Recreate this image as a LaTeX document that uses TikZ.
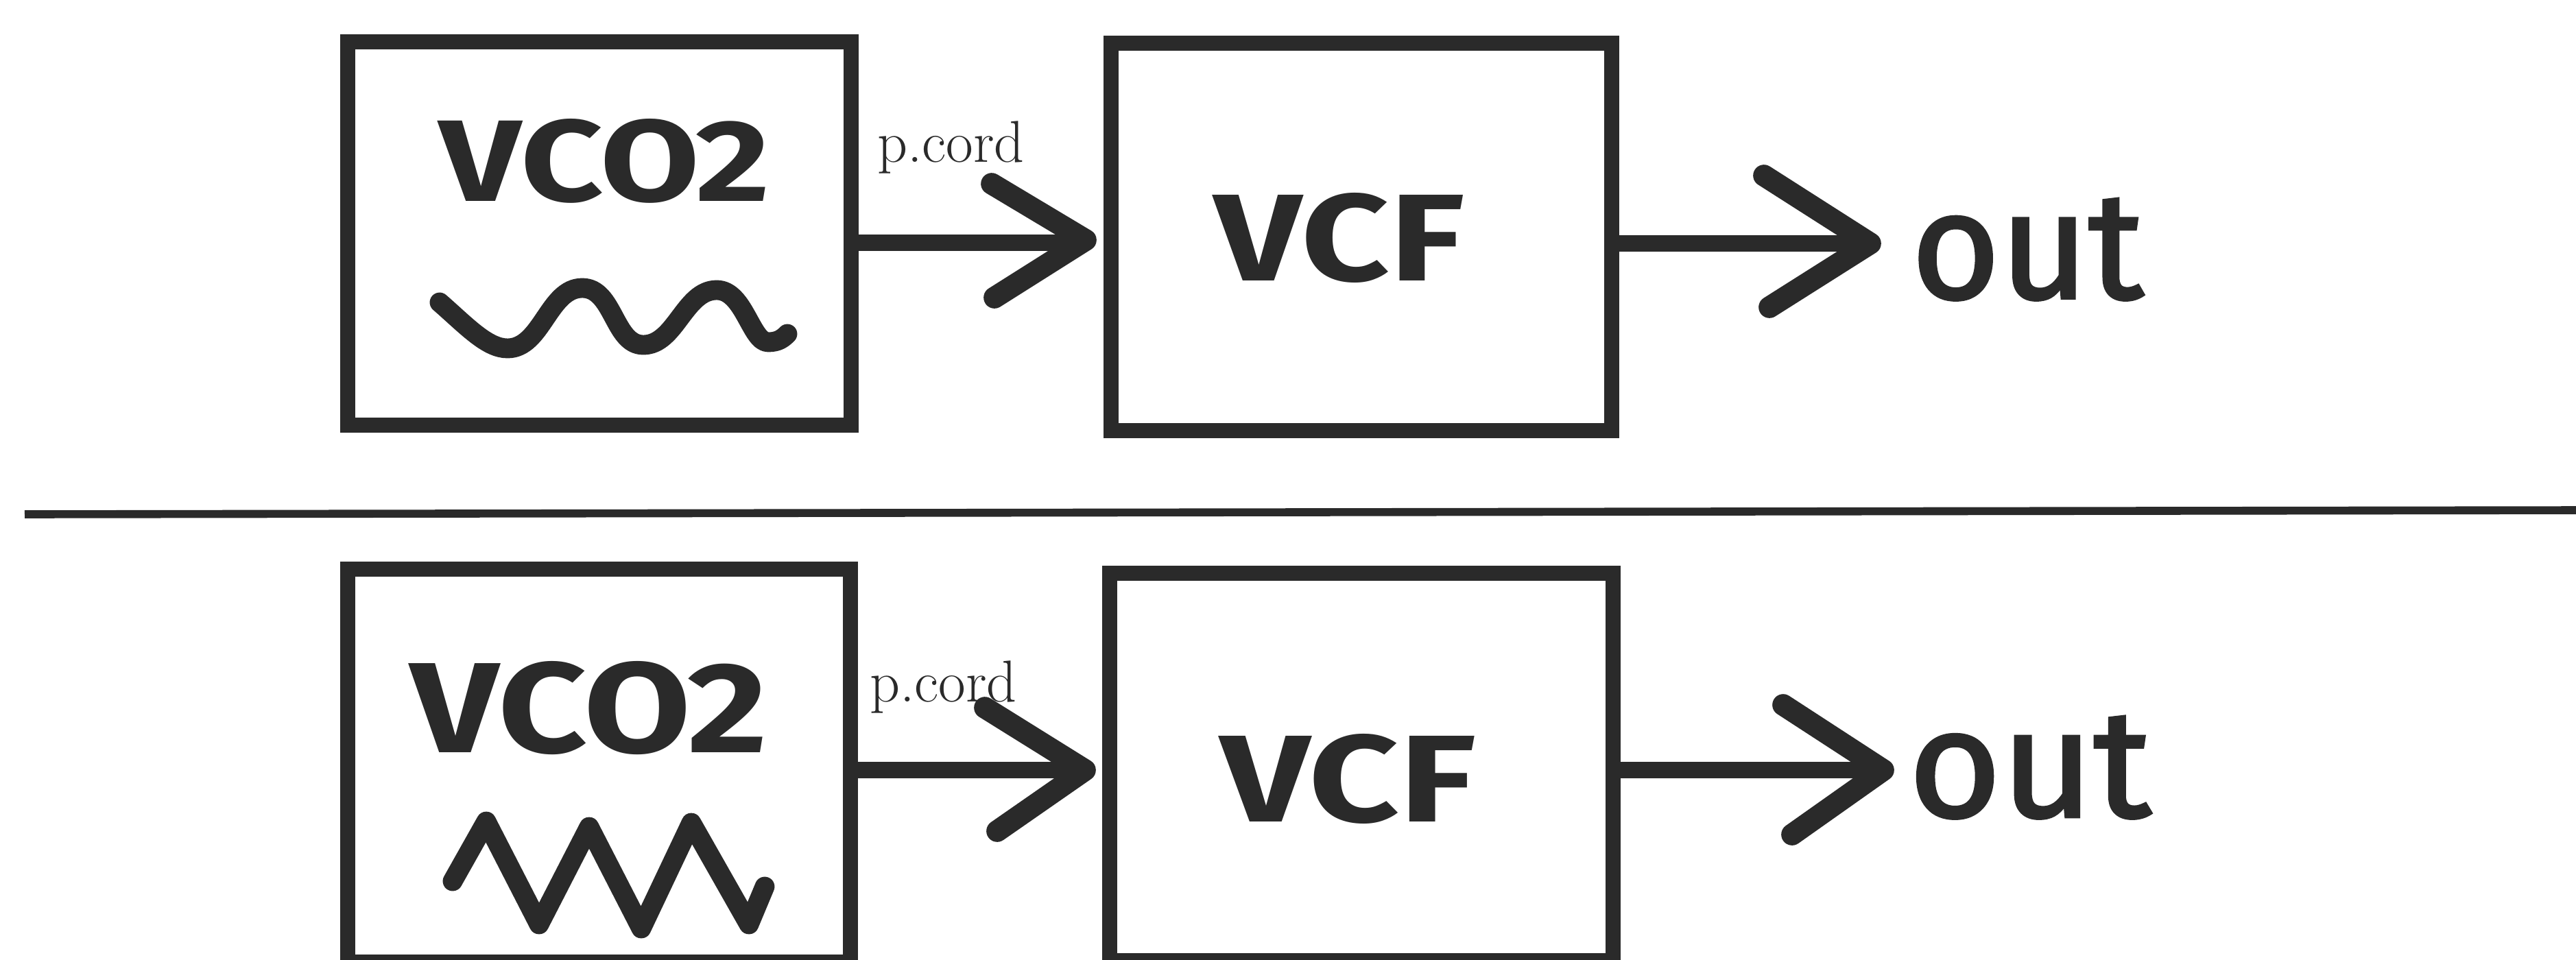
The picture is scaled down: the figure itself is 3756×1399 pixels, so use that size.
\documentclass[tikz,border=0pt]{standalone}
\usepackage{fontspec}
\setsansfont{Fira Sans}
\newfontfamily\outlettering{Fira Sans}[FakeBold=2]
\usepackage{graphicx}
\definecolor{ink}{RGB}{42,42,42}
\begin{document}
\begin{tikzpicture}[x=0.01cm,y=-0.01cm,
  blockbox/.style={draw=ink, line width=6.3pt, inner sep=0pt, outer sep=0pt},
  wire/.style={draw=ink, line width=7pt},
  chevron/.style={draw=ink, line width=9pt, line cap=round, line join=round},
  wavy/.style={draw=ink, line width=8.2pt, line cap=round, line join=round},
  rulel/.style={draw=ink, line width=3.3pt},
  lettering/.style={inner sep=0pt, outer sep=0pt, text=ink, font=\sffamily\bfseries},
  outtext/.style={inner sep=0pt, outer sep=0pt, text=ink, font=\outlettering, anchor=base west},
  cordlabel/.style={inner sep=0pt, outer sep=0pt, text=ink, font=\fontsize{24.5}{24.5}\selectfont, anchor=base west}]
\path[fill=white,use as bounding box] (0,0) rectangle (3756,1399);
\clip (0,0) rectangle (3756,1399);

% ---------- top row ----------
\node[blockbox, minimum width=7.34cm, minimum height=5.59cm] (vcoA) at (874,340.5) {};
\node[blockbox, minimum width=7.30cm, minimum height=5.65cm] (vcfA) at (1985,345.5) {};
\node[lettering] (vcoAtxt) at (882,235) {\resizebox{4.82cm}{1.2cm}{VCO2}};
\node[lettering] (vcfAtxt) at (1953,347) {\resizebox{3.64cm}{1.28cm}{VCF}};
\node[cordlabel] (cordA) at (1279,236) {p.cord};
\coordinate (tipA1) at (1583,350);
\coordinate (upA1) at (1446,268);
\coordinate (loA1) at (1450,434);
\coordinate (shaftA1) at (1583,354);
\draw[wire] (vcoA.east |- shaftA1) -- (shaftA1);
\draw[chevron] (upA1) -- (tipA1) -- (loA1);
\coordinate (tipA2) at (2727,355);
\coordinate (upA2) at (2572,256);
\coordinate (loA2) at (2580,448);
\draw[wire] (vcfA.east |- tipA2) -- (tipA2);
\draw[chevron] (upA2) -- (tipA2) -- (loA2);
\node[outtext] (outA) at (2787,435) {\resizebox{3.38cm}{1.45cm}{out}};
\draw[wavy] (641,441) .. controls (680,475) and (710,508) .. (740,508)
  .. controls (790,508) and (800,420) .. (849,420)
  .. controls (895,420) and (895,503) .. (938,503)
  .. controls (985,503) and (998,423) .. (1045,423)
  .. controls (1085,423) and (1095,499) .. (1120,499)
  .. controls (1135,499) and (1142,493) .. (1148,487);

% ---------- separator ----------
\coordinate (sepL) at (36,750);
\coordinate (sepR) at (3756,744);
\draw[rulel] (sepL) -- (sepR);

% ---------- bottom row ----------
\node[blockbox, minimum width=7.32cm, minimum height=5.73cm] (vcoB) at (873.5,1116.5) {};
\node[blockbox, minimum width=7.34cm, minimum height=5.65cm] (vcfB) at (1985,1118.5) {};
\node[lettering] (vcoBtxt) at (859,1033) {\resizebox{5.2cm}{1.33cm}{VCO2}};
\node[lettering] (vcfBtxt) at (1966,1136) {\resizebox{3.73cm}{1.28cm}{VCF}};
\node[cordlabel] (cordB) at (1268,1023) {p.cord};
\coordinate (tipB1) at (1582,1123);
\coordinate (upB1) at (1436,1032);
\coordinate (loB1) at (1454,1212);
\draw[wire] (vcoB.east |- tipB1) -- (tipB1);
\draw[chevron] (upB1) -- (tipB1) -- (loB1);
\coordinate (tipB2) at (2746,1123);
\coordinate (upB2) at (2600,1028);
\coordinate (loB2) at (2613,1217);
\draw[wire] (vcfB.east |- tipB2) -- (tipB2);
\draw[chevron] (upB2) -- (tipB2) -- (loB2);
\node[outtext] (outB) at (2783,1191) {\resizebox{3.53cm}{1.46cm}{out}};
\draw[wavy] (660,1285) -- (709,1198) -- (786,1348) -- (859,1206) -- (935,1354)
  -- (1008,1200) -- (1092,1348) -- (1115,1293);
\end{tikzpicture}
\end{document}
